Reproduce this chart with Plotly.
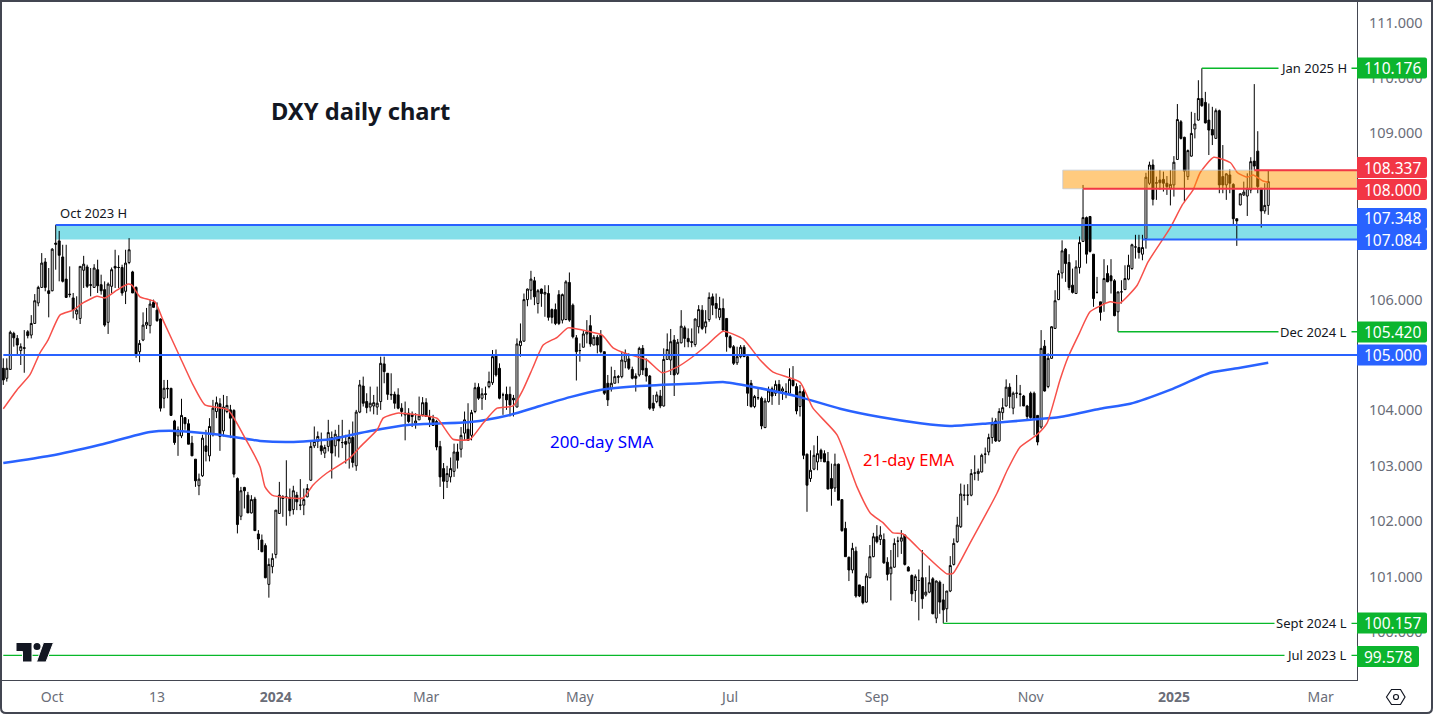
import plotly.graph_objects as go

# daily candles (oldest first)
opens = [
    104.76,104.58,104.74,105.39,105.30,105.08,105.12,105.42,105.36,105.57,
    105.94,106.22,106.68,106.16,106.16,107.02,107.06,106.77,106.37,106.10,
    106.03,105.74,105.66,106.53,106.59,106.27,106.22,106.54,106.27,106.18,
    105.59,106.24,106.60,106.58,106.58,106.15,106.67,106.50,106.22,105.06,
    105.27,105.54,105.53,105.95,105.81,105.65,104.22,104.40,104.40,103.81,
    103.54,103.54,103.87,103.76,103.41,103.12,102.64,102.82,103.36,103.18,
    103.56,103.98,104.12,103.63,103.98,104.01,104.00,102.77,102.09,102.61,
    102.47,102.15,102.40,101.77,101.66,101.56,100.86,101.18,101.40,102.14,
    102.44,102.44,102.43,102.21,102.47,102.29,102.29,102.44,102.74,103.36,
    103.44,103.36,103.23,103.35,103.51,103.36,103.53,103.42,103.44,103.41,
    103.51,103.00,103.97,104.44,104.16,104.06,104.08,104.06,104.16,104.84,
    104.67,104.29,104.29,104.28,104.04,103.92,103.95,103.92,103.77,103.83,
    103.92,104.14,103.89,103.84,103.80,103.35,102.95,102.72,102.80,102.90,
    103.25,103.30,103.59,103.66,103.55,103.98,104.42,104.22,104.30,104.43,
    104.50,105.00,104.76,104.28,104.29,104.29,104.22,104.06,105.17,105.25,
    106.00,106.17,106.34,105.93,106.19,106.10,106.11,105.82,105.82,106.09,
    105.63,105.64,106.31,105.90,105.31,105.08,105.14,105.38,105.53,105.18,
    105.32,105.36,105.06,104.49,104.40,104.49,104.61,104.61,104.88,104.93,
    104.74,104.62,104.64,105.12,104.76,104.62,104.13,104.16,104.26,104.08,
    104.92,104.91,105.27,104.67,105.22,105.49,105.30,105.24,105.19,105.51,
    105.81,105.51,105.64,106.05,105.93,105.68,105.84,105.66,105.33,105.15,
    104.86,104.97,105.14,104.97,104.49,104.07,104.23,104.22,103.69,104.16,
    104.39,104.31,104.47,104.35,104.34,104.31,104.55,104.43,104.07,104.34,
    103.21,102.77,102.94,103.07,103.28,103.22,103.08,102.77,102.60,103.03,
    102.39,101.87,101.35,101.12,101.46,100.85,100.82,100.54,100.98,101.36,
    101.72,101.67,101.67,101.26,101.05,101.17,101.64,101.64,101.75,101.17,
    101.02,100.75,100.93,100.98,100.67,100.72,100.96,100.25,100.90,100.58,
    100.42,100.74,101.22,101.63,101.90,102.47,102.47,102.47,102.87,102.86,
    102.89,103.21,103.25,103.51,103.81,103.45,103.96,104.08,104.42,104.04,
    104.31,104.30,104.26,104.08,104.31,104.31,103.91,103.70,105.16,104.43,
    104.94,105.48,106.00,106.48,106.91,106.67,106.26,106.11,106.58,107.05,
    107.48,107.50,106.82,106.13,105.96,105.93,106.47,106.43,106.34,105.78,
    106.14,106.18,106.37,106.56,106.95,106.94,106.82,107.10,108.10,108.43,
    108.10,108.16,108.17,108.10,108.01,108.07,108.53,109.21,108.93,108.22,
    108.59,109.08,109.24,109.63,109.56,109.24,109.07,108.91,109.41,108.22,
    108.07,108.25,108.08,107.46,107.71,107.89,107.87,107.98,108.50,108.68,108.01,107.60,107.70,
]
highs = [
    104.94,104.94,105.44,105.42,105.36,105.21,105.45,105.45,105.72,106.10,
    106.25,106.84,106.75,106.57,106.93,107.35,107.24,106.99,106.99,106.60,
    106.12,106.06,106.60,106.79,106.63,106.57,106.64,106.72,106.45,106.33,
    106.31,106.58,106.90,106.80,106.63,106.90,107.11,106.52,106.24,105.27,
    105.77,105.85,106.00,106.00,105.95,105.66,104.55,104.55,104.40,103.83,
    103.71,104.21,103.87,103.84,103.54,103.12,102.86,103.56,103.65,103.86,
    104.19,104.25,104.22,104.28,104.26,104.10,104.02,102.79,102.62,102.62,
    102.53,102.47,102.44,101.84,101.76,101.60,101.33,101.42,102.20,102.71,
    102.47,103.10,102.59,102.64,102.53,102.76,102.59,102.67,103.44,103.71,
    103.62,103.60,103.38,103.83,103.62,103.65,103.74,103.83,103.56,103.65,
    103.80,104.01,104.55,104.61,104.31,104.43,104.28,104.43,104.97,104.97,
    104.67,104.67,104.34,104.40,104.13,104.16,104.04,103.98,103.95,104.25,
    104.24,104.22,104.01,103.92,103.83,103.45,103.05,103.00,103.15,103.40,
    103.40,103.70,103.98,104.13,104.01,104.50,104.49,104.40,104.43,104.70,
    105.09,105.10,104.85,104.32,104.43,104.43,104.28,105.30,105.57,106.11,
    106.20,106.52,106.41,106.19,106.20,106.26,106.26,105.84,105.93,106.17,
    106.11,106.35,106.49,105.93,105.36,105.21,105.45,105.63,105.72,105.36,
    105.36,105.45,105.06,104.64,104.79,104.73,104.64,105.06,105.10,105.03,
    104.79,104.67,105.15,105.18,104.94,104.64,104.28,104.34,104.37,105.12,
    105.39,105.47,105.36,105.29,105.81,105.53,105.48,105.48,105.66,105.90,
    105.90,105.81,106.13,106.11,106.11,106.05,106.02,105.66,105.36,105.18,
    105.15,105.18,105.18,105.00,104.55,104.28,104.40,104.25,104.22,104.43,
    104.43,104.54,104.55,104.43,104.49,104.76,104.80,104.49,104.46,104.40,
    103.22,103.28,103.37,103.54,103.31,103.28,103.25,103.04,103.22,103.04,
    102.39,101.99,101.36,101.61,101.54,100.85,100.82,101.06,101.57,101.79,
    101.93,101.91,101.78,101.35,101.48,101.69,101.72,101.84,101.76,101.19,
    101.04,101.04,101.13,101.48,100.99,101.20,100.99,100.93,100.93,100.87,
    100.74,101.37,101.69,102.08,102.68,102.66,102.67,102.94,103.19,102.95,
    103.22,103.33,103.58,103.87,103.86,104.04,104.22,104.56,104.49,104.34,
    104.64,104.46,104.28,104.10,104.34,104.34,103.91,105.45,105.27,105.03,
    105.52,106.17,106.53,107.07,106.93,106.82,106.56,106.71,107.14,108.07,
    107.50,107.51,106.82,106.41,105.96,106.73,106.62,106.73,106.37,106.14,
    106.35,106.62,106.81,107.01,107.17,107.17,107.17,108.29,108.49,108.53,
    108.22,108.34,108.31,108.23,108.34,108.59,109.53,109.24,108.94,108.71,
    109.39,109.37,109.96,110.176,109.75,109.54,109.48,109.45,109.43,108.79,
    108.28,108.35,108.10,107.46,107.92,108.13,108.28,108.57,109.89,109.04,108.01,108.10,108.34,
]
lows = [
    104.46,104.52,104.73,105.15,105.00,104.82,104.68,105.30,105.30,105.56,
    105.88,106.21,106.15,105.68,106.15,106.54,106.33,106.31,106.03,106.04,
    105.66,105.63,105.56,106.21,106.21,106.06,106.21,106.12,106.09,105.51,
    105.38,106.12,106.21,106.21,106.07,105.92,106.64,106.12,104.95,104.87,
    105.25,105.47,105.39,105.86,105.60,103.98,104.04,104.22,103.91,103.38,
    103.18,103.50,103.65,103.39,103.18,102.62,102.47,102.80,103.08,103.08,
    103.53,103.86,103.27,103.53,103.95,103.50,102.79,101.78,102.02,102.23,
    102.15,102.14,101.83,101.48,101.44,100.97,100.62,101.06,101.33,102.14,
    102.08,101.92,102.09,102.12,102.20,102.20,102.11,102.43,102.73,103.32,
    103.32,103.20,103.14,103.26,102.77,103.17,103.15,103.32,103.04,102.95,
    102.97,102.91,103.95,104.07,103.95,103.98,103.93,103.92,104.01,104.49,
    104.19,104.19,104.03,104.02,103.89,103.46,103.77,103.70,103.67,103.83,
    103.89,103.89,103.70,103.73,103.28,102.62,102.40,102.60,102.70,102.80,
    102.95,103.15,103.46,103.46,103.46,103.95,104.19,104.01,104.19,104.40,
    104.46,104.61,104.20,103.92,104.01,103.89,103.89,104.06,104.97,105.24,
    105.88,106.00,105.90,105.75,105.87,105.69,105.62,105.57,105.54,105.54,
    105.57,105.63,105.60,105.30,104.54,104.88,105.14,105.21,105.15,105.18,
    105.03,105.03,104.28,104.08,104.34,104.49,104.49,104.58,104.76,104.73,
    104.56,104.34,104.61,104.64,104.52,104.01,103.99,104.13,104.04,104.07,
    104.91,104.64,104.26,104.64,105.21,105.14,105.14,105.14,105.15,105.39,
    105.45,105.39,105.60,105.72,105.66,105.63,105.44,105.06,105.12,104.82,
    104.82,104.94,104.97,104.08,104.05,104.04,104.19,103.66,103.68,104.14,
    104.10,104.26,104.10,104.19,104.22,104.31,104.43,103.93,103.89,103.12,
    102.17,102.71,102.92,102.92,103.07,103.07,102.58,102.28,102.53,102.38,
    101.81,101.36,100.92,101.06,100.62,100.63,100.50,100.53,100.97,101.35,
    101.60,101.57,101.23,100.93,100.57,101.16,101.35,101.41,101.20,101.10,
    100.56,100.54,100.21,100.42,100.64,100.70,100.32,100.16,100.33,100.157,
    100.18,100.72,101.20,101.61,101.88,102.37,102.29,102.45,102.74,102.73,
    102.88,103.04,103.19,103.40,103.43,103.43,103.83,104.07,104.04,103.93,
    104.22,104.07,104.08,103.83,103.85,103.55,103.37,103.67,104.34,104.40,
    104.93,105.47,105.99,106.38,106.32,106.17,106.11,106.11,106.47,107.05,
    106.65,106.85,105.87,106.11,105.62,105.78,106.32,106.11,105.70,105.42,
    105.93,106.18,106.35,106.54,106.74,106.74,106.71,106.92,108.07,107.70,
    107.80,107.98,107.95,107.89,107.70,107.86,108.52,108.89,107.77,108.16,
    108.58,108.91,109.23,109.48,109.18,108.61,108.79,108.91,107.92,107.92,
    107.80,107.92,107.36,106.97,107.70,107.87,107.51,107.92,108.34,107.92,107.30,107.55,107.53,
]
closes = [
    104.55,104.76,105.41,105.31,105.18,105.15,105.13,105.35,105.57,105.98,
    106.22,106.66,106.22,106.11,106.91,107.00,106.80,106.33,106.04,106.09,
    105.81,105.81,106.60,106.64,106.24,106.26,106.57,106.25,106.16,105.54,
    106.28,106.54,106.57,106.58,106.12,106.66,106.90,106.12,105.02,105.21,
    105.54,105.59,105.92,105.86,105.62,104.04,104.40,104.39,103.91,103.42,
    103.65,103.91,103.76,103.39,103.18,102.73,102.76,103.50,103.26,103.71,
    104.04,104.14,103.53,104.06,104.09,103.86,102.85,101.94,102.55,102.55,
    102.15,102.39,101.83,101.68,101.45,100.98,101.22,101.33,102.20,102.47,
    102.41,102.43,102.19,102.55,102.35,102.29,102.39,102.59,103.35,103.44,
    103.53,103.27,103.33,103.60,103.23,103.57,103.45,103.42,103.39,103.51,
    103.06,103.97,104.46,104.13,104.05,104.13,104.14,104.13,104.85,104.70,
    104.29,104.28,104.13,104.04,103.98,103.95,103.80,103.89,103.81,103.90,
    104.14,103.89,103.83,103.73,103.34,102.80,102.72,102.86,102.95,103.25,
    103.10,103.55,103.83,103.46,103.96,104.41,104.22,104.30,104.29,104.52,
    104.97,104.64,104.22,104.28,104.19,104.10,104.19,105.20,105.25,106.00,
    106.19,106.37,106.05,106.16,106.11,106.13,105.68,105.68,105.57,105.57,
    106.09,106.32,105.63,105.33,105.06,105.08,105.38,105.42,105.20,105.32,
    105.18,105.06,104.31,104.19,104.49,104.61,104.60,104.91,105.03,104.76,
    104.58,104.58,105.12,104.73,104.62,104.04,104.04,104.28,104.08,104.92,
    105.10,105.24,104.64,105.23,105.52,105.30,105.24,105.23,105.65,105.82,
    105.48,105.60,106.04,105.90,105.84,105.84,105.45,105.33,105.14,104.85,
    104.97,105.14,104.97,104.31,104.07,104.25,104.23,103.72,104.17,104.35,
    104.26,104.47,104.32,104.39,104.33,104.56,104.45,103.99,104.34,103.19,
    102.65,102.92,103.19,103.22,103.13,103.07,102.58,102.59,103.03,102.38,
    101.83,101.36,101.12,101.51,100.65,100.65,100.53,101.01,101.36,101.72,
    101.63,101.75,101.25,101.04,101.17,101.60,101.64,101.70,101.22,101.10,
    100.69,101.00,100.93,100.60,100.72,100.89,100.33,100.92,100.54,100.40,
    100.74,101.20,101.60,101.93,102.49,102.47,102.47,102.86,102.87,102.90,
    103.19,103.21,103.51,103.76,103.45,103.98,104.05,104.42,104.25,104.31,
    104.31,104.29,104.08,103.89,103.87,103.85,103.43,105.12,104.35,104.94,
    105.51,105.98,106.47,106.88,106.65,106.22,106.13,106.59,107.03,107.48,
    106.82,106.87,106.02,106.13,105.77,106.38,106.32,106.34,105.71,106.14,
    106.14,106.38,106.62,106.99,106.95,106.85,106.94,108.21,108.43,107.81,
    108.11,108.11,108.10,108.04,108.08,108.48,109.25,108.91,108.32,108.69,
    109.00,109.17,109.63,109.50,109.19,109.06,108.97,109.41,108.07,108.07,
    108.27,108.10,107.46,107.42,107.91,107.94,108.01,108.49,108.41,108.04,107.60,107.70,108.13,
]

# 21-day EMA, read at these bars
ema_bars = [0,3.9,7.6,10.5,12.8,16.2,20,22.8,26.8,29.1,32.5,35.7,36.8,39.1,43.4,45.7,50.6,54.3,57.7,64.3,
            69.2,73.5,74.9,76.9,85.8,88.6,92.6,99.2,102.1,107,108.7,112.7,118.4,124.1,128.7,133.6,137.3,141.3,145.9,148.7,
            151.6,154.5,158.5,161.6,167.9,171.4,174.5,178.5,184.2,188.5,192.8,197.1,201.4,206,211.7,216.6,220.3,228,231.7,238.6,
            244.3,248.1,251.8,254.6,257.5,263.2,270,271.8,276.7,284.4,287.3,291,295.8,298.7,302.4,304.7,308,311,316.7,319.6,
            324.5,327.6,333.9,337.4,340.5,342.5,346.4,351.2,353.2,356,357.7,360.5,362]
ema_vals = [104.03,104.37,104.64,105.04,105.27,105.72,105.81,105.94,106.06,106.03,106.17,106.28,106.26,106.05,105.96,105.63,104.96,104.46,104.10,104.01,
            103.50,102.98,102.62,102.47,102.42,102.65,102.87,103.14,103.34,103.65,103.86,103.95,103.92,103.86,103.48,103.48,103.77,104.04,104.08,104.37,
            104.78,105.18,105.32,105.49,105.42,105.36,105.13,105.02,104.91,104.68,104.78,104.96,105.18,105.43,105.29,104.91,104.69,104.51,104.04,103.56,
            102.62,102.15,101.97,101.79,101.77,101.43,101.05,101.06,101.61,102.51,102.92,103.34,103.56,103.77,104.55,104.96,105.40,105.78,105.96,105.94,
            106.26,106.68,107.29,107.71,107.98,108.29,108.57,108.47,108.29,108.21,108.25,108.14,108.12]

# 200-day SMA, read at these bars
sma_bars = [0,13.4,27.7,42,49.1,60.6,73.5,82.1,93.5,105,116.4,133.6,145,153.6,162.2,170.8,182.2,199.4,206.5,216.6,
            228,239.5,250.9,262.4,270.9,282.4,293.9,302.4,313.9,322.5,333.9,345.4,354,362]
sma_vals = [103.05,103.18,103.38,103.61,103.63,103.57,103.45,103.43,103.48,103.63,103.74,103.79,103.92,104.08,104.24,104.37,104.44,104.49,104.51,104.40,
            104.24,104.03,103.88,103.77,103.72,103.77,103.83,103.88,104.03,104.12,104.37,104.68,104.77,104.86]

# axes
price_ticks = [100,101,102,103,104,106,109,110,111]
time_ticks = [14,44,78,121,165,208,250,294,335,377]
time_labels = ["Oct","13","<b>2024</b>","Mar","May","Jul","Sep","Nov","<b>2025</b>","Mar"]

# price tags on the right axis (crowded tags sit off their level, as in the widget)
tag_values = [110.176,108.337,108.000,107.348,107.084,105.420,105.000,100.157,99.578]
tag_colors = ["#0cb52e","#f23645","#f23645","#2962ff","#2962ff","#0cb52e","#2962ff","#0cb52e","#0cb52e"]
tag_center = [68,167.5,189.5,218.5,239.5,332,355,623,656.5]
tag_right = [1427,1427,1427,1427,1427,1427,1427,1427,1419]

green_levels = [110.176,105.420,100.157,99.578]
green_starts = [343,319,269,0]
green_names = ["Jan 2025 H","Dec 2024 L","Sept 2024 L","Jul 2023 L"]

W, H = 1436, 715
BLUE = "#2962ff"
RED = "#f23645"
GREEN = "#08b82a"
FONT = "Noto Sans"
x_left, x_right = -0.37, 387.4
y_low, y_high = 99.134, 111.372


def px(v):
    return v / W


def py(v):
    return 1 - v / H


def poly(points):
    return "M " + " L ".join("{} {}".format(px(a), py(b)) for a, b in points) + " Z"


bars = list(range(len(closes)))

fig = go.Figure()
fig.add_trace(go.Candlestick(
    x=bars, open=opens, high=highs, low=lows, close=closes,
    increasing=dict(line=dict(color="#000000", width=1), fillcolor="#ffffff"),
    decreasing=dict(line=dict(color="#000000", width=1), fillcolor="#000000"),
    whiskerwidth=0, showlegend=False, hoverinfo="skip"))
fig.add_trace(go.Scatter(x=sma_bars, y=sma_vals, mode="lines", showlegend=False, hoverinfo="skip",
                         line=dict(color=BLUE, width=2.5, shape="spline", smoothing=0.6)))
fig.add_trace(go.Scatter(x=ema_bars, y=ema_vals, mode="lines", showlegend=False, hoverinfo="skip",
                         line=dict(color="#f7504a", width=1.5, shape="spline", smoothing=0.5)))

shapes = []
# zones
shapes.append(dict(type="rect", xref="x", yref="y", x0=15, x1=x_right, y0=107.084, y1=107.348,
                   fillcolor="#84dfe9", line_width=0, layer="below"))
shapes.append(dict(type="rect", xref="x", yref="y", x0=303.2, x1=x_right, y0=108.0, y1=108.337,
                   fillcolor="rgba(255,152,0,0.5)", line=dict(color="rgba(190,200,215,0.7)", width=1), layer="above"))
# drawn levels
line_levels = [(15,107.348,BLUE,2),(326,107.084,BLUE,2),(0,105.0,BLUE,2),(358,108.337,RED,2),(309,108.0,RED,2)]
for start, level, color, lw in line_levels:
    shapes.append(dict(type="line", xref="x", yref="y", x0=start, x1=x_right, y0=level, y1=level,
                       line=dict(color=color, width=lw), layer="above"))
for start, level in zip(green_starts, green_levels):
    shapes.append(dict(type="line", xref="x", yref="y", x0=start, x1=x_right, y0=level, y1=level,
                       line=dict(color=GREEN, width=1.3), layer="above"))
# price tags with small rounded right corners
for color, center, right in zip(tag_colors, tag_center, tag_right):
    top, bottom = center - 10.5, center + 10.5
    tag_path = "M {} {} L {} {} Q {} {} {} {} L {} {} Q {} {} {} {} L {} {} Z".format(
        px(1357), py(top), px(right - 2), py(top), px(right), py(top), px(right), py(top + 2),
        px(right), py(bottom - 2), px(right), py(bottom), px(right - 2), py(bottom), px(1357), py(bottom))
    shapes.append(dict(type="path", xref="paper", yref="paper", path=tag_path, fillcolor=color, line_width=0, layer="above"))

# tradingview mark
logo_t = [(16,642.5),(32,642.5),(32,662),(22.5,662),(22.5,651.5),(16,651.5)]
logo_slash = [(43.5,642.5),(53.5,642.5),(46,662),(36.5,662)]
for p in [logo_t, logo_slash]:
    shapes.append(dict(type="path", xref="paper", yref="paper", path=poly(p), fillcolor="#131722",
                       line=dict(color="#ffffff", width=1), layer="above"))
shapes.append(dict(type="circle", xref="paper", yref="paper", x0=px(33.5), x1=px(40.5), y0=py(650), y1=py(643),
                   fillcolor="#131722", line_width=0, layer="above"))

# settings icon
hexagon = [(1386.5,697),(1391.5,689.5),(1400.5,689.5),(1405,697),(1400.5,704.5),(1391.5,704.5)]
shapes.append(dict(type="path", xref="paper", yref="paper", path=poly(hexagon), fillcolor="#ffffff",
                   line=dict(color="#131722", width=1.2), layer="above"))
shapes.append(dict(type="circle", xref="paper", yref="paper", x0=px(1393.5), x1=px(1398.5), y0=py(699.5), y1=py(694.5),
                   fillcolor="#ffffff", line=dict(color="#131722", width=1.2), layer="above"))

# widget frame
frame = "M {} {} L {} {} L {} {} Q {} {} {} {} L {} {} Q {} {} {} {} Z".format(
    px(1), py(1), px(1432), py(1), px(1432), py(708), px(1432), py(713), px(1427), py(713), px(6), py(713), px(1), py(713), px(1), py(708))
shapes.append(dict(type="path", xref="paper", yref="paper", path=frame, fillcolor="rgba(0,0,0,0)",
                   line=dict(color="#434651", width=2), layer="above"))

annotations = []
for level, name in zip(green_levels, green_names):
    annotations.append(dict(xref="paper", yref="y", x=px(1352), y=level, text=name + " ", showarrow=False,
                            xanchor="right", yanchor="middle", bgcolor="#ffffff", borderpad=1,
                            font=dict(family=FONT, size=13, color="#131722")))
for value, center, right in zip(tag_values, tag_center, tag_right):
    annotations.append(dict(xref="paper", yref="paper", x=px((1357 + right) / 2), y=py(center), text="%.3f" % value,
                            showarrow=False, xanchor="center", yanchor="middle", borderpad=0,
                            font=dict(family=FONT, size=15.5, color="#ffffff")))
annotations.append(dict(xref="paper", yref="paper", x=px(58), y=py(213), text="Oct 2023 H", showarrow=False,
                        xanchor="left", yanchor="middle", font=dict(family=FONT, size=13, color="#131722")))
annotations.append(dict(xref="paper", yref="paper", x=px(269), y=py(111), text="<b>DXY daily chart</b>", showarrow=False,
                        xanchor="left", yanchor="middle", font=dict(family=FONT, size=23.7, color="#131722")))
annotations.append(dict(xref="paper", yref="paper", x=px(548), y=py(441), text="200-day SMA", showarrow=False,
                        xanchor="left", yanchor="middle", font=dict(family=FONT, size=17, color="#0000ff")))
annotations.append(dict(xref="paper", yref="paper", x=px(861), y=py(459), text="21-day EMA", showarrow=False,
                        xanchor="left", yanchor="middle", font=dict(family=FONT, size=16.5, color="#ff0000")))

fig.update_layout(
    width=W, height=H,
    margin=dict(l=0, r=0, t=0, b=0),
    paper_bgcolor="#ffffff", plot_bgcolor="#ffffff",
    showlegend=False, boxgap=0.2,
    shapes=shapes, annotations=annotations,
    xaxis=dict(domain=[px(2), px(1357)], range=[x_left, x_right], rangeslider=dict(visible=False),
               tickmode="array", tickvals=time_ticks, ticktext=time_labels, showgrid=False, zeroline=False,
               showline=True, linecolor="#434651", linewidth=1, ticks="", ticklabelstandoff=4,
               tickfont=dict(family=FONT, size=14, color="#6a6d78")),
    yaxis=dict(domain=[1 - 680 / H, 1 - 2 / H], range=[y_low, y_high], side="right",
               tickmode="array", tickvals=price_ticks, ticktext=["%.3f" % v for v in price_ticks],
               showgrid=False, zeroline=False, showline=True, linecolor="#434651", linewidth=1,
               ticks="", ticklabelstandoff=8, tickfont=dict(family=FONT, size=14.5, color="#6a6d78")),
)

fig.write_html("out.html", config={"displayModeBar": False}, post_script="document.body.style.margin='0';")
